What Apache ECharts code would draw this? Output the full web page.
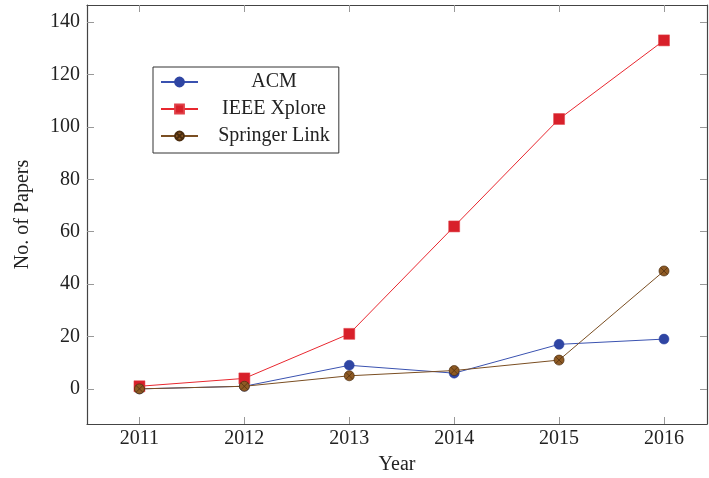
<!DOCTYPE html>
<html><head><meta charset="utf-8">
<script src="https://cdn.jsdelivr.net/npm/echarts@6/dist/echarts.min.js"></script>
<style>html,body{margin:0;padding:0;background:#fff}#c{width:709px;height:478px}</style>
</head><body><div id="c"></div>
<script>
const years = [2011, 2012, 2013, 2014, 2015, 2016];
const acm = [0, 1, 9, 6, 17, 19];
const ieee = [1, 4, 21, 62, 103, 133];
const springer = [0, 1, 5, 7, 11, 45];
const yTicks = [0, 20, 40, 60, 80, 100, 120, 140];
const seriesNames = ['ACM', 'IEEE Xplore', 'Springer Link'];

const FONT = 'Liberation Serif';
const FS = 20;
const axisLineStyle = {color: '#444', width: 1.2};
const tickStyle = {color: '#999', width: 1};
const pair = (xs, ys) => xs.map((x, i) => [x, ys[i]]);
const otimes = 'path://M0,-10A10,10 0 1,1 0,10A10,10 0 1,1 0,-10ZM-7,-7L7,7M-7,7L7,-7';

const chart = echarts.init(document.getElementById('c'));
chart.setOption({
  animation: false,
  grid: {left: 87, top: 5, right: 2, bottom: 54, containLabel: false, outerBoundsMode: 'none'},
  textStyle: {fontFamily: FONT},
  legend: {
    left: 153, top: 67, orient: 'vertical',
    data: seriesNames,
    borderColor: '#333', borderWidth: 1, padding: [5, 9, 7, 7],
    itemWidth: 37, itemHeight: 11, itemGap: 7,
    formatter: '{a|{name}}',
    textStyle: {fontFamily: FONT, fontSize: FS, color: '#222',
      rich: {a: {width: 142, align: 'center', fontFamily: FONT, fontSize: FS, color: '#222'}}}
  },
  xAxis: [{
    type: 'value', min: 2010.5, max: 2016.41,
    name: 'Year', nameLocation: 'middle', nameGap: 31,
    nameTextStyle: {fontFamily: FONT, fontSize: FS, color: '#222'},
    axisLine: {show: true, onZero: false, lineStyle: axisLineStyle},
    axisTick: {show: true, inside: true, length: 7, lineStyle: tickStyle, customValues: years},
    axisLabel: {fontFamily: FONT, fontSize: FS, color: '#222', margin: 5, customValues: years,
      formatter: v => String(v)},
    splitLine: {show: false}
  }, {
    type: 'value', position: 'top', min: 2010.5, max: 2016.41,
    axisLine: {show: true, onZero: false, lineStyle: axisLineStyle},
    axisTick: {show: true, inside: true, length: 7, lineStyle: tickStyle, customValues: years},
    axisLabel: {show: false}, splitLine: {show: false}
  }],
  yAxis: [{
    type: 'value', min: -13.4, max: 146.5,
    name: 'No. of Papers', nameLocation: 'middle', nameGap: 54, nameRotate: 90,
    nameTextStyle: {fontFamily: FONT, fontSize: FS, color: '#222'},
    axisLine: {show: true, onZero: false, lineStyle: axisLineStyle},
    axisTick: {show: true, inside: true, length: 7, lineStyle: tickStyle, customValues: yTicks},
    axisLabel: {fontFamily: FONT, fontSize: FS, color: '#222', margin: 7, customValues: yTicks,
      formatter: v => String(v)},
    splitLine: {show: false}
  }, {
    type: 'value', position: 'right', min: -13.4, max: 146.5,
    axisLine: {show: true, onZero: false, lineStyle: axisLineStyle},
    axisTick: {show: true, inside: true, length: 7, lineStyle: tickStyle, customValues: yTicks},
    axisLabel: {show: false}, splitLine: {show: false}
  }],
  series: [{
    name: 'ACM', type: 'line', data: pair(years, acm),
    symbol: 'circle', symbolSize: 10,
    lineStyle: {color: '#3a52b0', width: 1},
    itemStyle: {color: '#2f45a3', borderColor: '#2f45a3', borderWidth: 0.5},
    z: 3
  }, {
    name: 'IEEE Xplore', type: 'line', data: pair(years, ieee),
    symbol: 'rect', symbolSize: 11,
    lineStyle: {color: '#e8272f', width: 1},
    itemStyle: {color: '#d8202a', borderColor: '#e04048', borderWidth: 0.5},
    z: 4
  }, {
    name: 'Springer Link', type: 'line', data: pair(years, springer),
    symbol: otimes, symbolSize: 10,
    lineStyle: {color: '#7a4e22', width: 1},
    itemStyle: {color: '#8e5a24', borderColor: '#4a2c0e', borderWidth: 0.7},
    z: 5
  }]
});
</script></body></html>
